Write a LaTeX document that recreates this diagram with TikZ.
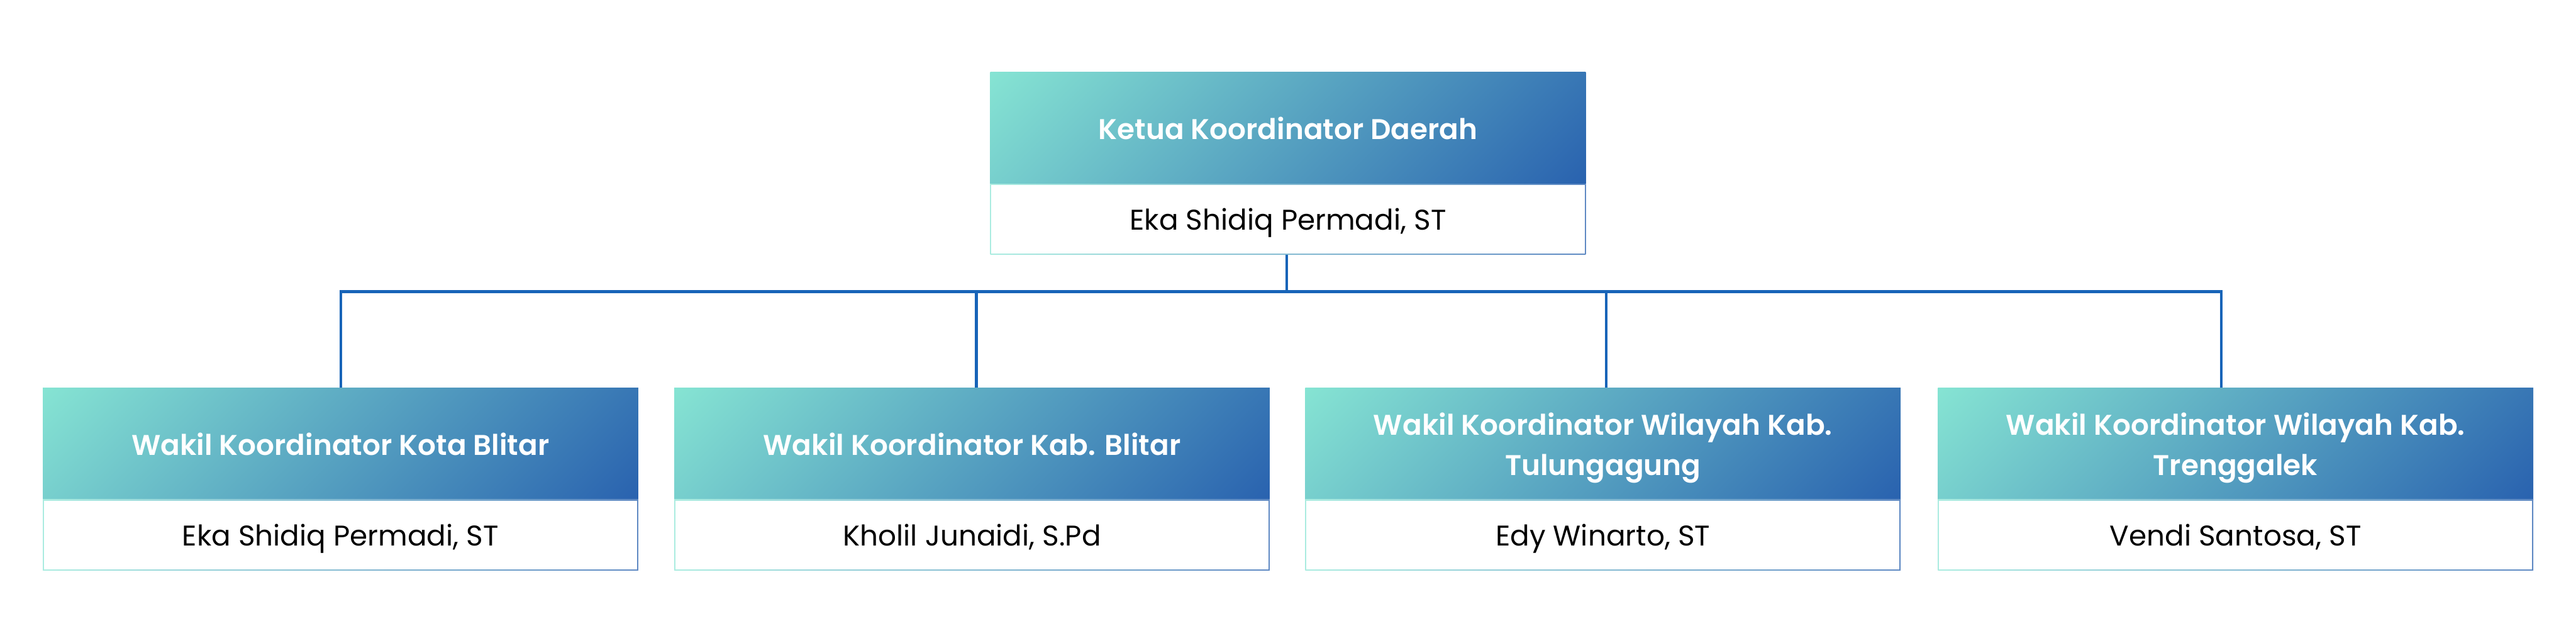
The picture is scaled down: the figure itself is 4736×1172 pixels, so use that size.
\documentclass[tikz,border=0pt]{standalone}
\usepackage{fontspec}
\setmainfont{Poppins}
\newfontfamily\psemi{Poppins SemiBold}
\definecolor{mint}{RGB}{134,228,211}
\definecolor{deepb}{RGB}{41,98,175}
\definecolor{linec}{RGB}{24,100,184}
% diagonal gradient: mint (top left) to blue (bottom right), isolines at 45 degrees in the box
\pgfdeclarefunctionalshading{hdrgrad}{\pgfpointorigin}{\pgfpoint{100bp}{100bp}}{}{
  75 exch sub 50 div 205 mul
  exch 25 sub 50 div 1094 mul add 1299 div
  dup 0 lt {pop 0} if dup 1 gt {pop 1} if
  dup dup
  -0.364 mul 0.525 add
  3 1 roll
  -0.510 mul 0.894 add
  exch
  -0.141 mul 0.827 add
}
\begin{document}
\begin{tikzpicture}[x=0.01cm,y=-0.01cm,
  hdr/.style={rectangle, minimum width=10.94cm, minimum height=2.05cm, inner sep=0pt,
    shading=hdrgrad, shading angle=0, text=white, align=center, text depth=0pt,
    font=\psemi\fontsize{14.9}{21}\selectfont},
  bdy/.style={rectangle, minimum width=10.94cm, minimum height=1.3cm, inner sep=0pt,
    left color=mint!70, right color=deepb!75, shading angle=90, text=black, text depth=0pt,
    font=\fontsize{14.9}{21}\selectfont,
    path picture={\fill[white] ([shift={(0.6pt,0.6pt)}]path picture bounding box.south west)
      rectangle ([shift={(-0.6pt,-0.6pt)}]path picture bounding box.north east);}},
  conn/.style={draw=linec, line width=1.42pt}]
\useasboundingbox (0,0) rectangle (4736,1172);
\fill[white] (0,0) rectangle (4736,1172);

% top
\node[hdr] (kh) at (2368,235.5) {Ketua Koordinator Daerah};
\node[bdy] (kb) at (2368,403) {Eka Shidiq Permadi, ST};

% bottom
\node[hdr] (h1) at (626,815.5) {Wakil Koordinator Kota Blitar};
\node[bdy] (b1) at (626,983) {Eka Shidiq Permadi, ST};
\node[hdr] (h2) at (1787,815.5) {Wakil Koordinator Kab. Blitar};
\node[bdy] (b2) at (1787,983) {Kholil Junaidi, S.Pd};
\node[hdr] (h3) at (2947,815.5) {Wakil Koordinator Wilayah Kab.\\Tulungagung};
\node[bdy] (b3) at (2947,983) {Edy Winarto, ST};
\node[hdr] (h4) at (4110,815.5) {Wakil Koordinator Wilayah Kab.\\Trenggalek};
\node[bdy] (b4) at (4110,983) {Vendi Santosa, ST};

% connectors
\coordinate (j0) at (2366,536);
\coordinate (j1) at (627,536);
\coordinate (j2) at (1795,536);
\coordinate (j3) at (2953,536);
\coordinate (j4) at (4084,536);
\draw[conn] (kb.south -| j0) -- (j0);
\draw[conn, line cap=rect] (j1) -- (j4);
\draw[conn] (j1) -- (j1 |- h1.north);
\draw[conn] (j2) -- (j2 |- h2.north);
\draw[conn] (j3) -- (j3 |- h3.north);
\draw[conn] (j4) -- (j4 |- h4.north);
\end{tikzpicture}
\end{document}
